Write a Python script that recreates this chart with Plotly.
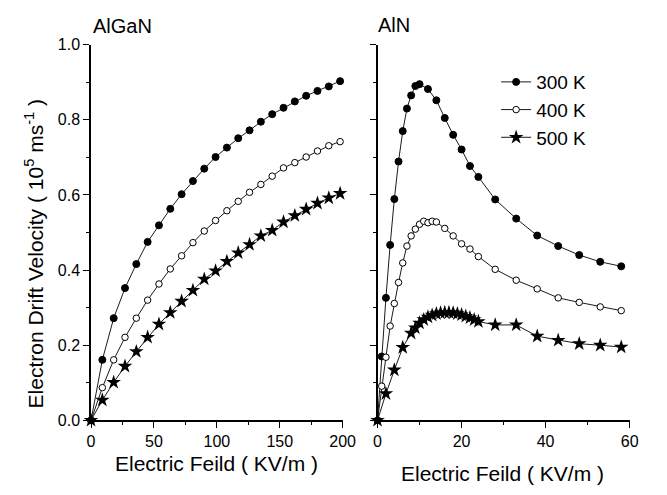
import plotly.graph_objects as go

# ---------------- data ----------------
algan_field = [0, 9, 18, 27, 36, 45, 54, 63, 72, 81, 90, 99, 108, 117, 126,
               135, 144, 153, 162, 171, 180, 189, 198]
algan_300 = [0, 0.161, 0.272, 0.352, 0.416, 0.475, 0.519, 0.563, 0.602, 0.637,
             0.670, 0.701, 0.726, 0.751, 0.772, 0.795, 0.815, 0.832, 0.849,
             0.864, 0.877, 0.889, 0.903]
algan_400 = [0, 0.087, 0.161, 0.221, 0.272, 0.320, 0.363, 0.403, 0.438, 0.473,
             0.504, 0.532, 0.558, 0.583, 0.607, 0.628, 0.650, 0.672, 0.686,
             0.701, 0.717, 0.731, 0.742]
algan_500 = [0, 0.054, 0.101, 0.144, 0.183, 0.221, 0.256, 0.287, 0.317, 0.346,
             0.376, 0.398, 0.423, 0.446, 0.468, 0.491, 0.506, 0.528, 0.545,
             0.562, 0.578, 0.592, 0.604]

aln_field_300 = [0, 1, 2, 3, 4, 5, 6, 7, 8, 9, 10, 12, 14, 16, 18, 20, 22, 24,
                 28, 33, 38, 43, 48, 53, 58]
aln_300 = [0, 0.170, 0.326, 0.467, 0.589, 0.689, 0.770, 0.830, 0.865, 0.890,
           0.895, 0.882, 0.852, 0.805, 0.760, 0.721, 0.677, 0.648, 0.588,
           0.537, 0.492, 0.464, 0.440, 0.422, 0.410]

aln_field_400 = [0, 1, 2, 3, 4, 5, 6, 7, 8, 9, 10, 11, 12, 13, 14, 16, 18, 20,
                 22, 24, 28, 33, 38, 43, 48, 53, 58]
aln_400 = [0, 0.091, 0.168, 0.251, 0.311, 0.367, 0.419, 0.464, 0.491, 0.509,
           0.522, 0.530, 0.526, 0.530, 0.528, 0.511, 0.491, 0.470, 0.456,
           0.436, 0.402, 0.373, 0.350, 0.326, 0.314, 0.302, 0.292]

aln_field_500 = [0, 2, 4, 6, 8, 9, 10, 11, 12, 13, 14, 15, 16, 17, 18, 19, 20,
                 21, 22, 23, 24, 28, 33, 38, 43, 48, 53, 58]
aln_500 = [0, 0.071, 0.134, 0.194, 0.232, 0.246, 0.259, 0.268, 0.275, 0.280,
           0.284, 0.286, 0.287, 0.287, 0.286, 0.284, 0.281, 0.277, 0.273,
           0.268, 0.263, 0.254, 0.254, 0.224, 0.213, 0.204, 0.200, 0.195]

temps = ["300 K", "400 K", "500 K"]
panel_titles = ["AlGaN", "AlN"]
x_title = "Electric Feild ( KV/m )"
y_title = "Electron Drift Velocity ( 10<sup>5</sup> ms<sup>-1</sup> )"

# ---------------- styling ----------------
FONT = "Liberation Sans, Arial, sans-serif"
W, H = 667, 495
marker_styles = {
    "300 K": dict(symbol="circle", size=7, color="black", line=dict(color="black", width=1)),
    "400 K": dict(symbol="circle", size=6.5, color="white", line=dict(color="black", width=1)),
    "500 K": dict(symbol="star", size=11, color="black", line=dict(color="black", width=0)),
}
line_style = dict(color="black", width=0.9)

fig = go.Figure()

left_sets = [(algan_field, algan_300), (algan_field, algan_400), (algan_field, algan_500)]
right_sets = [(aln_field_300, aln_300), (aln_field_400, aln_400), (aln_field_500, aln_500)]

for name, (xs, ys) in zip(temps, left_sets):
    fig.add_trace(go.Scatter(x=xs, y=ys, mode="lines+markers", name=name,
                             legendgroup=name, showlegend=False,
                             line=line_style, marker=marker_styles[name],
                             cliponaxis=False, xaxis="x", yaxis="y"))
for name, (xs, ys) in zip(temps, right_sets):
    fig.add_trace(go.Scatter(x=xs, y=ys, mode="lines+markers", name=name,
                             legendgroup=name, showlegend=True,
                             line=line_style, marker=marker_styles[name],
                             cliponaxis=False, xaxis="x2", yaxis="y2"))


def px_x(p):
    return p / W


def px_y(p):
    return 1 - p / H


xdom1 = [px_x(89.3), px_x(347.5)]
xdom2 = [px_x(383.3), px_x(642)]
ydom = [px_y(427), px_y(38)]

tick_minor = dict(tickcolor="black", tickwidth=1.2, ticklen=3)
axis_common = dict(showgrid=False, zeroline=False, showline=True,
                   linecolor="black", linewidth=1.5, ticks="outside",
                   tickcolor="black", tickwidth=1.2, ticklen=6,
                   tickfont=dict(family=FONT, size=16, color="black"))
mirror_common = dict(showgrid=False, zeroline=False, showline=True,
                     linecolor="black", linewidth=1.5, ticks="inside",
                     tickcolor="black", tickwidth=1.2, ticklen=6,
                     showticklabels=False)

fig.update_layout(
    width=W, height=H,
    margin=dict(l=0, r=0, t=0, b=0),
    paper_bgcolor="white", plot_bgcolor="white",
    font=dict(family=FONT, color="black"),
    xaxis=dict(domain=xdom1, range=[0, 200], dtick=50, anchor="y",
               minor=dict(ticks="outside", dtick=25, **tick_minor), **axis_common),
    yaxis=dict(domain=ydom, range=[0, 1.0], dtick=0.2, tickformat=".1f", anchor="x",
               minor=dict(ticks="outside", dtick=0.1, **tick_minor), **axis_common),
    xaxis3=dict(overlaying="x", side="top", anchor="y", domain=xdom1, range=[0, 200], dtick=50,
                minor=dict(ticks="inside", dtick=25, **tick_minor), **mirror_common),
    yaxis3=dict(overlaying="y", side="right", anchor="x", domain=ydom, range=[0, 1.0], dtick=0.2,
                minor=dict(ticks="inside", dtick=0.1, **tick_minor), **mirror_common),
    xaxis2=dict(domain=xdom2, range=[0, 60], dtick=20, anchor="y2",
                minor=dict(ticks="outside", dtick=10, **tick_minor), **axis_common),
    yaxis2=dict(domain=ydom, range=[0, 1.0], dtick=0.2, anchor="x2", showticklabels=False,
                minor=dict(ticks="outside", dtick=0.1, **tick_minor), **axis_common),
    xaxis4=dict(overlaying="x2", side="top", anchor="y2", domain=xdom2, range=[0, 60], dtick=20,
                minor=dict(ticks="inside", dtick=10, **tick_minor), **mirror_common),
    yaxis4=dict(overlaying="y2", side="right", anchor="x2", domain=ydom, range=[0, 1.0], dtick=0.2,
                minor=dict(ticks="inside", dtick=0.1, **tick_minor), **mirror_common),
    legend=dict(x=px_x(505), y=px_y(57), xanchor="left", yanchor="top",
                bgcolor="rgba(0,0,0,0)", borderwidth=0, itemwidth=30,
                font=dict(family=FONT, size=19, color="black"), tracegroupgap=0),
)

annotations = [
    dict(text=panel_titles[0], x=px_x(89), y=px_y(19), xanchor="left", yanchor="middle",
         font=dict(size=20)),
    dict(text=panel_titles[1], x=px_x(382), y=px_y(18), xanchor="left", yanchor="middle",
         font=dict(size=20)),
    dict(text=x_title, x=px_x(218), y=px_y(472), xanchor="center", yanchor="middle",
         font=dict(size=21)),
    dict(text=x_title, x=px_x(512), y=px_y(482), xanchor="center", yanchor="middle",
         font=dict(size=21)),
    dict(text=y_title, x=px_x(31), y=px_y(255), xanchor="center", yanchor="middle",
         textangle=-90, font=dict(size=21)),
]
for a in annotations:
    a.update(xref="paper", yref="paper", showarrow=False)
    a["font"] = dict(family=FONT, color="black", **a["font"])
fig.update_layout(annotations=annotations)

fig.write_html("out.html")
